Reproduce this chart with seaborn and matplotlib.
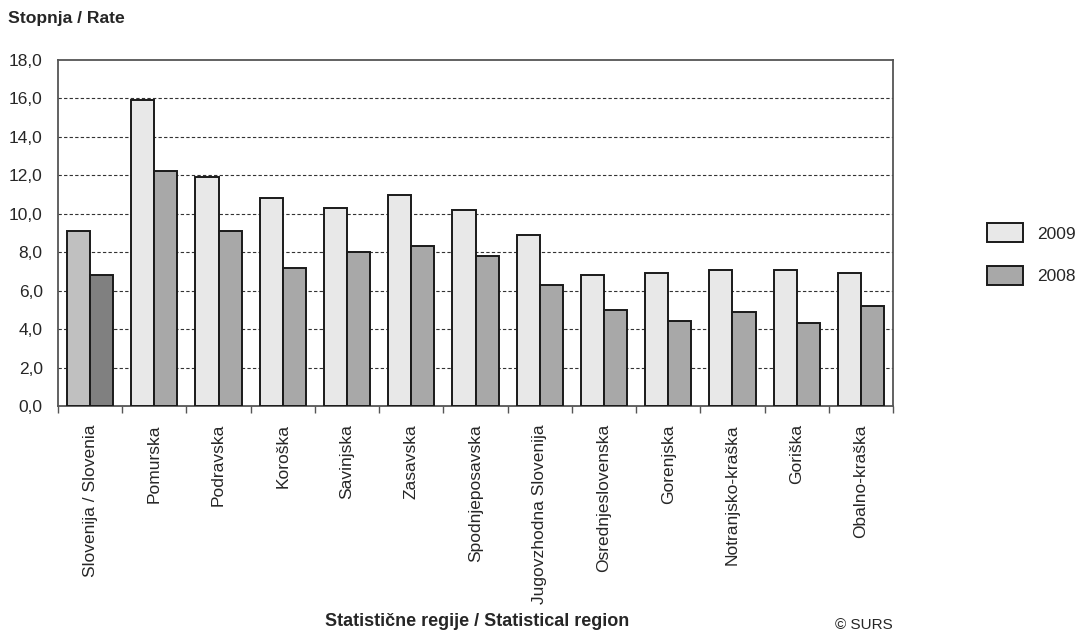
import numpy as np
import pandas as pd
import matplotlib
matplotlib.use('Agg')
import matplotlib.pyplot as plt
import seaborn as sns

regions = ['Slovenija / Slovenia', 'Pomurska', 'Podravska', 'Koroška', 'Savinjska',
           'Zasavska', 'Spodnjeposavska', 'Jugovzhodna Slovenija', 'Osrednjeslovenska',
           'Gorenjska', 'Notranjsko-kraška', 'Goriška', 'Obalno-kraška']
rate_2009 = [9.1, 15.9, 11.9, 10.8, 10.3, 11.0, 10.2, 8.9, 6.8, 6.9, 7.1, 7.1, 6.9]
rate_2008 = [6.8, 12.2, 9.1, 7.2, 8.0, 8.3, 7.8, 6.3, 5.0, 4.4, 4.9, 4.3, 5.2]
years = ['2009', '2008']
y_ticks = [0, 2, 4, 6, 8, 10, 12, 14, 16, 18]

df = pd.DataFrame({
    'region': regions * 2,
    'year': [years[0]] * len(regions) + [years[1]] * len(regions),
    'rate': rate_2009 + rate_2008,
})

sns.set_style('white')
plt.rcParams['font.family'] = ['Liberation Sans', 'DejaVu Sans']

fig = plt.figure(figsize=(10.77, 6.32), dpi=100)
ax = fig.add_axes([58 / 1077, 1 - 406 / 632, (893 - 58) / 1077, (406 - 60) / 632])

palette = {'2009': '#e8e8e8', '2008': '#a8a8a8'}
sns.barplot(data=df, x='region', y='rate', hue='year', hue_order=years,
            palette=palette, width=0.72, edgecolor='#1a1a1a', linewidth=1.4,
            saturation=1, ax=ax, legend=True, zorder=3)

# Slovenia as a whole is drawn in different shades
ax.containers[0][0].set_facecolor('#c0c0c0')
ax.containers[1][0].set_facecolor('#808080')

ax.set_xlim(-0.5, len(regions) - 0.5)
ax.set_ylim(0, 18)
ax.set_yticks(y_ticks)
ax.set_yticklabels([f'{v:.1f}'.replace('.', ',') for v in y_ticks], fontsize=12.5)
ax.tick_params(axis='y', length=0, pad=11)

ax.set_xticks(range(len(regions)))
ax.set_xticklabels(regions, rotation=90, fontsize=12.5)
ax.set_xticks(np.arange(-0.5, len(regions), 1), minor=True)
ax.tick_params(axis='x', which='major', length=0, pad=13)
ax.tick_params(axis='x', which='minor', length=5, width=1, color='#555555', direction='out', bottom=True)

for y in y_ticks[1:-1]:
    ax.axhline(y, color='#333333', linestyle=(0, (3, 2)), linewidth=0.8, zorder=1)

for side in ['top', 'right', 'left', 'bottom']:
    ax.spines[side].set_color('#555555')
    ax.spines[side].set_linewidth(1.3)

ax.set_xlabel('')
ax.set_ylabel('')

handles, labels = ax.get_legend_handles_labels()
ax.get_legend().remove()
fig.legend(handles, labels, loc='center left', bbox_to_anchor=(987 / 1077, 1 - 254 / 632),
           frameon=False, fontsize=12.5, handlelength=2.05, handleheight=1.3,
           handletextpad=0.85, labelspacing=1.35, borderpad=0, borderaxespad=0)

fig.text(8 / 1077, 1 - 18 / 632, 'Stopnja / Rate', fontsize=12.6, fontweight='bold',
         ha='left', va='center')
fig.text(477 / 1077, 1 - 621 / 632, 'Statistične regije / Statistical region',
         fontsize=13, fontweight='bold', ha='center', va='center')
fig.text(893 / 1077, 1 - 625 / 632, '© SURS', fontsize=11, ha='right', va='center')

fig.savefig('out.png', dpi=100)
